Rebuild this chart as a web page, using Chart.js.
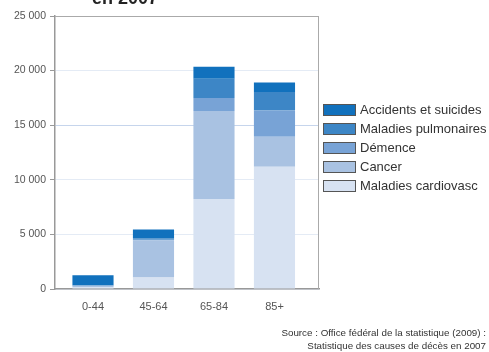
<!DOCTYPE html>
<html>
<head>
<meta charset="utf-8">
<script src="https://cdn.jsdelivr.net/npm/chart.js@4/dist/chart.umd.min.js"></script>
<style>
    html, body { margin: 0; padding: 0; background: #fff; }
    #wrap { position: relative; width: 489px; height: 352px; overflow: hidden; font-family: "Liberation Sans", Arial, sans-serif; }
    #chartCanvas { position: absolute; left: 0; top: 0; }
    #title { position: absolute; left: 92px; top: -11px; font-size: 18px; line-height: 18px; font-weight: bold; color: #222; white-space: nowrap; }
    #legend { position: absolute; left: 323px; top: 100px; }
    .legend-row { display: flex; align-items: center; height: 19px; }
    .legend-box { width: 33px; height: 12px; box-sizing: border-box; border: 1px solid #555; margin-right: 4px; }
    .legend-text { font-size: 13px; color: #333; white-space: nowrap; }
    #source { position: absolute; right: 3px; top: 326px; font-size: 9.8px; line-height: 13px; color: #333; text-align: right; white-space: nowrap; }
</style>
</head>
<body>
<div id="wrap">
    <canvas id="chartCanvas" width="489" height="352"></canvas>
    <div id="title">en 2007</div>
    <div id="legend"></div>
    <div id="source">Source : Office fédéral de la statistique (2009) :<br>Statistique des causes de décès en 2007</div>
</div>
<script>
// --- Data ---
const ageGroups = ["0-44", "45-64", "65-84", "85+"];
const yTicks = [0, 5000, 10000, 15000, 20000, 25000];

const cardioValues = [150, 1050, 8250, 11200];
const cancerValues = [150, 3400, 8050, 2750];
const dementiaValues = [0, 50, 1200, 2400];
const pulmonaryValues = [50, 150, 1750, 1700];
const accidentValues = [900, 800, 1100, 850];

// bottom to top
const seriesNames = ["Maladies cardiovasc", "Cancer", "Démence", "Maladies pulmonaires", "Accidents et suicides"];
const seriesValues = [cardioValues, cancerValues, dementiaValues, pulmonaryValues, accidentValues];
const seriesColors = ["#d7e2f2", "#a9c2e2", "#78a3d6", "#3d86c6", "#1171bd"];

// --- Datasets ---
const datasets = seriesNames.map((name, s) => ({
    label: name,
    data: seriesValues[s].map((v, i) => ({ x: i, y: v })),
    backgroundColor: seriesColors[s],
    borderWidth: 0,
    barPercentage: 0.68,
    categoryPercentage: 1
}));

// --- Legend (top row = last series) ---
const legend = document.getElementById("legend");
legend.innerHTML = seriesNames.map((name, s) => `
    <div class="legend-row">
        <div class="legend-box" style="background:${seriesColors[s]}"></div>
        <span class="legend-text">${name}</span>
    </div>
`).reverse().join("");

// --- Frame on top and right of the plot ---
const framePlugin = {
    id: "frame",
    afterDraw(chart) {
        const { ctx, chartArea: a } = chart;
        ctx.save();
        ctx.strokeStyle = "#aaa";
        ctx.lineWidth = 1;
        ctx.beginPath();
        ctx.moveTo(a.left, a.top + 0.5);
        ctx.lineTo(a.right - 0.5, a.top + 0.5);
        ctx.lineTo(a.right - 0.5, a.bottom);
        ctx.stroke();
        ctx.restore();
    }
};

const fontFamily = '"Liberation Sans", Arial, sans-serif';

new Chart(document.getElementById("chartCanvas"), {
    type: "bar",
    data: { datasets },
    plugins: [framePlugin],
    options: {
        responsive: false,
        animation: false,
        layout: { padding: { top: 16, right: 170, bottom: 0, left: 0 } },
        plugins: {
            legend: { display: false },
            tooltip: { enabled: false }
        },
        scales: {
            x: {
                type: "linear",
                stacked: true,
                offset: false,
                min: -0.628,
                max: 3.736,
                afterBuildTicks: scale => { scale.ticks = ageGroups.map((_, i) => ({ value: i })); },
                afterFit: scale => { scale.height = 63; },
                grid: { display: false, drawTicks: false, offset: false },
                border: { color: "#999", width: 1.5 },
                ticks: {
                    padding: 11,
                    color: "#555",
                    font: { family: fontFamily, size: 11 },
                    callback: v => ageGroups[v] ?? ""
                }
            },
            y: {
                stacked: true,
                min: 0,
                max: 25000,
                afterBuildTicks: scale => { scale.ticks = yTicks.map(v => ({ value: v })); },
                afterFit: scale => { scale.width = 55; },
                grid: {
                    tickLength: 5,
                    tickColor: "#999",
                    color: c => c.tick.value === 25000 ? "#aaa" : c.tick.value === 15000 ? "#c6d5ec" : "#e4ebf5"
                },
                border: { color: "#999", width: 1.5 },
                ticks: {
                    padding: 4,
                    color: "#555",
                    font: { family: fontFamily, size: 10.5 },
                    callback: v => v === 0 ? "0" : v.toLocaleString("fr-FR").replace(/\s/g, " ")
                }
            }
        }
    }
});
</script>
</body>
</html>
